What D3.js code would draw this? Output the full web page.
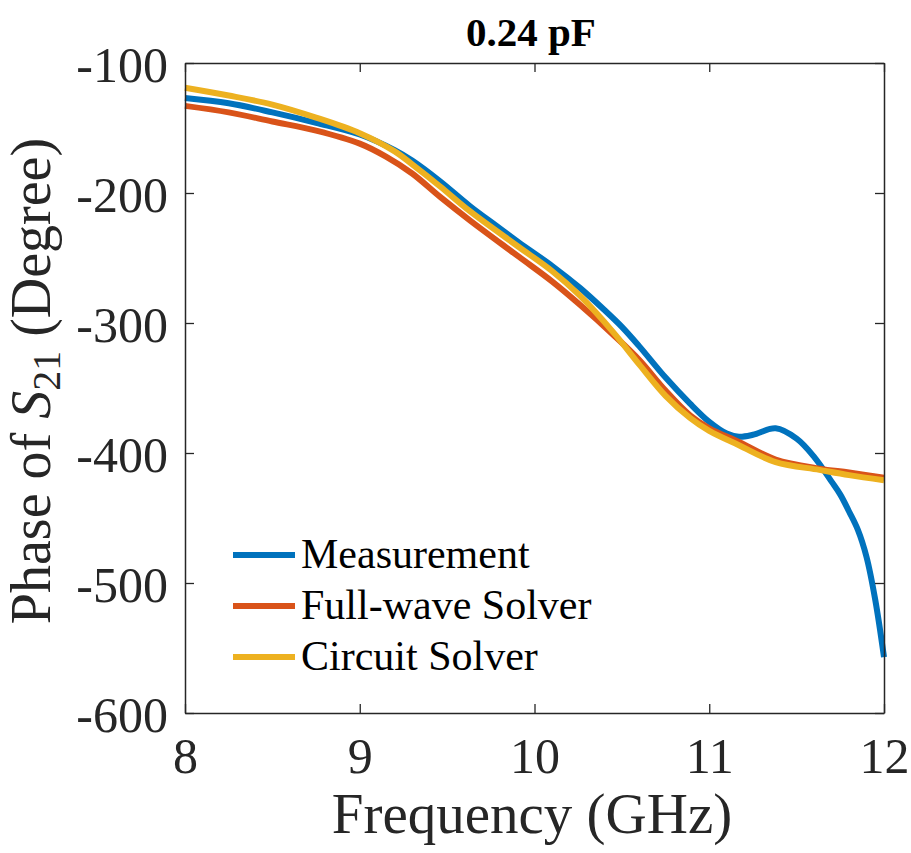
<!DOCTYPE html>
<html>
<head>
<meta charset="utf-8">
<script src="https://cdn.jsdelivr.net/npm/d3@7"></script>
<style>
  html, body { margin: 0; padding: 0; background: #fff; }
  svg { display: block; }
</style>
</head>
<body>
<div id="chart"></div>
<script>
// Phase of S21 — 0.24 pF
const xTicks = [8, 9, 10, 11, 12];
const yTicks = [-100, -200, -300, -400, -500, -600];

const measFreq  = [8.0, 8.25, 8.5, 8.75, 9.0, 9.2, 9.3, 9.46, 9.63, 9.8, 9.91, 10.1, 10.26, 10.4, 10.5, 10.6, 10.75, 10.89, 11.0, 11.1, 11.17, 11.25, 11.38, 11.5, 11.6, 11.7, 11.75, 11.8, 11.85, 11.9, 11.95, 12.0];
const measPhase = [-127, -131, -138, -146, -155, -167, -175, -191, -210, -227, -238, -256, -273, -290, -303, -318, -342, -362, -376, -385, -387.5, -386, -381, -389, -403, -422, -432, -445, -459, -480, -513, -557];

const fullFreq  = [8.0, 8.25, 8.5, 8.75, 9.0, 9.15, 9.3, 9.46, 9.63, 9.91, 10.1, 10.26, 10.45, 10.6, 10.75, 10.89, 11.0, 11.17, 11.38, 11.63, 11.8, 12.0];
const fullPhase = [-133, -138, -145, -152, -162, -172, -185, -203, -221, -249, -268, -286, -309, -328.5, -352, -371, -381, -391.5, -405, -412, -415, -419];

const circFreq  = [8.0, 8.25, 8.5, 8.75, 9.0, 9.2, 9.3, 9.46, 9.63, 9.91, 10.1, 10.26, 10.45, 10.6, 10.75, 10.89, 11.0, 11.17, 11.38, 11.63, 11.8, 12.0];
const circPhase = [-119, -125, -132, -142, -154, -168, -178, -195, -214, -241.5, -260, -279, -307, -332, -356, -373, -383, -394, -407, -413, -417, -421];

const seriesNames  = ["Measurement", "Full-wave Solver", "Circuit Solver"];
const seriesColors = ["#0072BD", "#D95319", "#EDB120"];

const width = 911, height = 853;
const margin = { top: 63, right: 27, bottom: 140, left: 185 };
const innerW = width - margin.left - margin.right;
const innerH = height - margin.top - margin.bottom;
const axisColor = "#262626";
const serif = "'Liberation Serif', 'Times New Roman', serif";

const svg = d3.select("#chart").append("svg")
    .attr("width", width).attr("height", height);

const g = svg.append("g").attr("transform", `translate(${margin.left},${margin.top})`);

const xScale = d3.scaleLinear().domain([8, 12]).range([0, innerW]);
const yScale = d3.scaleLinear().domain([-600, -100]).range([innerH, 0]);

// Lines
const series = [
    measFreq.map((f, i) => ({ f, v: measPhase[i] })),
    fullFreq.map((f, i) => ({ f, v: fullPhase[i] })),
    circFreq.map((f, i) => ({ f, v: circPhase[i] }))
];
const line = d3.line()
    .x(d => xScale(d.f))
    .y(d => yScale(d.v))
    .curve(d3.curveCatmullRom.alpha(0.5));

const plot = g.append("g");
series.forEach((s, i) => {
    plot.append("path")
        .datum(s)
        .attr("fill", "none")
        .attr("stroke", seriesColors[i])
        .attr("stroke-width", 6)
        .attr("stroke-linejoin", "round")
        .attr("d", line);
});

// Axes (ticks pointing inward, closed box)
const tickLen = 9;
const fmt = d => String(d);
const xAxisB = g.append("g").attr("transform", `translate(0,${innerH})`)
    .call(d3.axisBottom(xScale).tickValues(xTicks).tickFormat(fmt).tickSize(-tickLen).tickPadding(24).tickSizeOuter(0));
const xAxisT = g.append("g")
    .call(d3.axisTop(xScale).tickValues(xTicks).tickSize(-tickLen).tickFormat("").tickSizeOuter(0));
const yAxisL = g.append("g")
    .call(d3.axisLeft(yScale).tickValues(yTicks).tickFormat(fmt).tickSize(-tickLen).tickPadding(17).tickSizeOuter(0));
const yAxisR = g.append("g").attr("transform", `translate(${innerW},0)`)
    .call(d3.axisRight(yScale).tickValues(yTicks).tickSize(-tickLen).tickFormat("").tickSizeOuter(0));

[xAxisB, xAxisT, yAxisL, yAxisR].forEach(a => {
    a.selectAll("path.domain").attr("stroke", axisColor).attr("stroke-width", 1.5);
    a.selectAll("line").attr("stroke", axisColor).attr("stroke-width", 1.3);
});
xAxisB.selectAll("text")
    .style("font-family", serif).style("font-size", "50px").attr("fill", axisColor)
    .attr("dy", "0.71em");
yAxisL.selectAll("text")
    .style("font-family", serif).style("font-size", "50px").attr("fill", axisColor)
    .attr("dy", "0.36em");

// Title
svg.append("text")
    .attr("x", 531).attr("y", 46)
    .attr("text-anchor", "middle")
    .style("font-family", serif).style("font-size", "41px").style("font-weight", "bold")
    .attr("fill", "#000")
    .text("0.24 pF");

// Axis labels
svg.append("text")
    .attr("x", 532).attr("y", 833)
    .attr("text-anchor", "middle")
    .style("font-family", serif).style("font-size", "57px")
    .attr("fill", axisColor)
    .text("Frequency (GHz)");

const yLab = svg.append("text")
    .attr("transform", "translate(50,381) rotate(-90)")
    .attr("text-anchor", "middle")
    .style("font-family", serif).style("font-size", "56px")
    .attr("fill", axisColor);
yLab.append("tspan").text("Phase of ");
yLab.append("tspan").style("font-style", "italic").text("S");
yLab.append("tspan").attr("dy", 10).style("font-size", "40px").text("21");
yLab.append("tspan").attr("dy", -10).text(" (Degree)");

// Legend
const legend = svg.append("g").attr("transform", "translate(233,555)");
seriesNames.forEach((name, i) => {
    const row = legend.append("g").attr("transform", `translate(0,${i * 51})`);
    row.append("line").attr("x1", 0).attr("x2", 62).attr("y1", 0).attr("y2", 0)
        .attr("stroke", seriesColors[i]).attr("stroke-width", 6);
    row.append("text").attr("x", 68).attr("y", 13)
        .style("font-family", serif).style("font-size", "42px")
        .attr("fill", "#000").text(name);
});
</script>
</body>
</html>
